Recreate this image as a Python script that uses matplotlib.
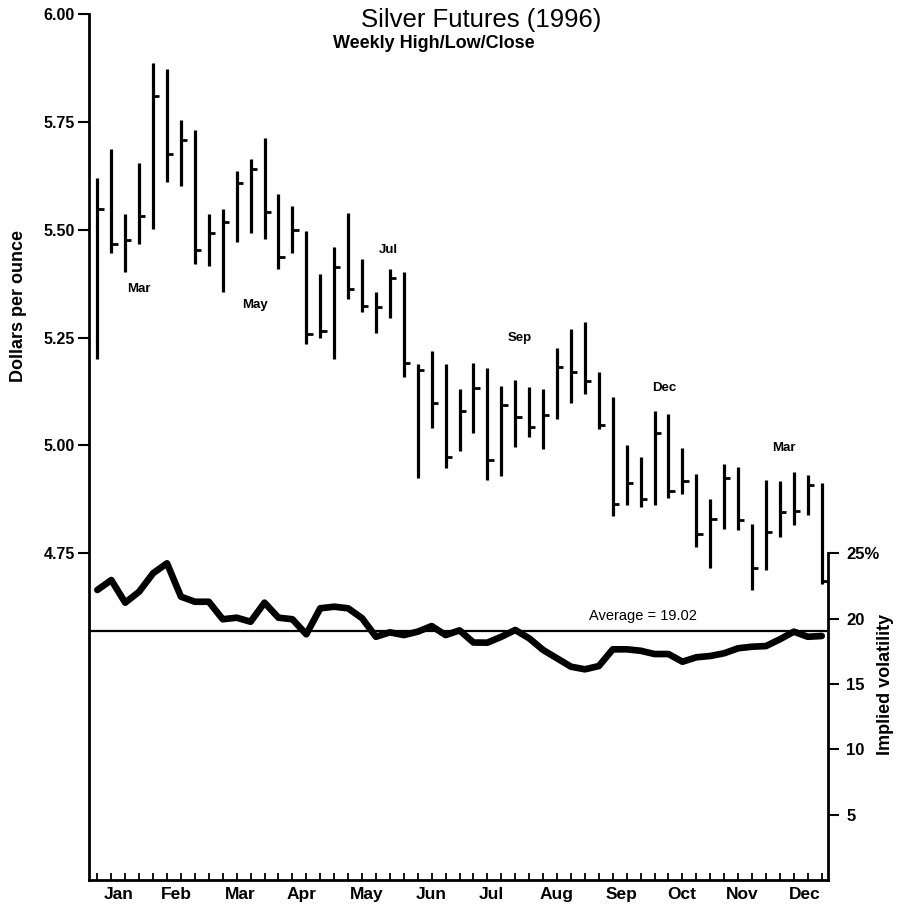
import matplotlib.pyplot as plt
import numpy as np

plt.rcParams['font.family'] = ['Liberation Sans', 'DejaVu Sans']

# weekly high / low / close, dollars per ounce
highs = [5.620, 5.686, 5.536, 5.655, 5.886, 5.872, 5.755, 5.732, 5.536, 5.549,
         5.635, 5.664, 5.713, 5.583, 5.556, 5.497, 5.397, 5.459, 5.538, 5.432,
         5.355, 5.410, 5.402, 5.189, 5.220, 5.188, 5.131, 5.192, 5.180, 5.139,
         5.152, 5.135, 5.131, 5.225, 5.270, 5.286, 5.171, 5.112, 5.000, 4.974,
         5.079, 5.074, 4.994, 4.935, 4.877, 4.958, 4.949, 4.818, 4.921, 4.917,
         4.939, 4.931, 4.914]
lows = [5.200, 5.447, 5.401, 5.466, 5.501, 5.610, 5.601, 5.420, 5.415, 5.355,
        5.472, 5.493, 5.478, 5.410, 5.445, 5.235, 5.249, 5.201, 5.339, 5.309,
        5.260, 5.295, 5.158, 4.924, 5.041, 4.947, 4.988, 5.030, 4.920, 4.930,
        4.997, 5.020, 4.993, 5.061, 5.099, 5.120, 5.039, 4.837, 4.862, 4.858,
        4.862, 4.879, 4.887, 4.764, 4.717, 4.806, 4.804, 4.666, 4.712, 4.787,
        4.816, 4.839, 4.679]
closes = [5.547, 5.468, 5.476, 5.532, 5.811, 5.676, 5.709, 5.453, 5.493, 5.519,
          5.609, 5.641, 5.540, 5.436, 5.499, 5.258, 5.266, 5.413, 5.362, 5.324,
          5.322, 5.388, 5.192, 5.174, 5.099, 4.974, 5.081, 5.133, 4.966, 5.093,
          5.066, 5.044, 5.071, 5.183, 5.170, 5.149, 5.048, 4.865, 4.912, 4.877,
          5.029, 4.894, 4.918, 4.796, 4.830, 4.924, 4.827, 4.716, 4.800, 4.847,
          4.849, 4.908, 4.685]

# implied volatility, percent
vol = [22.19, 22.95, 21.22, 22.06, 23.47, 24.23, 21.68, 21.29, 21.29, 19.95,
       20.07, 19.76, 21.22, 20.07, 19.95, 18.80, 20.79, 20.91, 20.79, 20.03,
       18.61, 18.95, 18.74, 19.00, 19.43, 18.74, 19.10, 18.17, 18.16, 18.61,
       19.13, 18.49, 17.60, 16.96, 16.32, 16.12, 16.37, 17.65, 17.65, 17.54,
       17.29, 17.29, 16.70, 17.04, 17.14, 17.35, 17.73, 17.85, 17.90, 18.42,
       19.00, 18.61, 18.67]
avg_vol = 19.02

month_names = ['Jan', 'Feb', 'Mar', 'Apr', 'May', 'Jun',
               'Jul', 'Aug', 'Sep', 'Oct', 'Nov', 'Dec']
month_pos = [1.56, 5.65, 10.24, 14.69, 19.3, 24.0,
             28.3, 33.0, 37.6, 41.95, 46.3, 50.8]

# contract month labels (name, week, price)
contract_names = ['Mar', 'May', 'Jul', 'Sep', 'Dec', 'Mar']
contract_week = [3.0, 11.3, 20.9, 30.3, 40.7, 49.3]
contract_price = [5.362, 5.326, 5.453, 5.250, 5.133, 4.994]

weeks = np.arange(len(highs))

fig = plt.figure(figsize=(8.98, 9.16), dpi=100)
ax = fig.add_axes([89 / 898, 36 / 916, 739 / 898, 866 / 916])

ax.vlines(weeks, lows, highs, color='black', lw=2.3)
ax.hlines(closes, weeks, weeks + 0.45, color='black', lw=2.0)

for name, w, p in zip(contract_names, contract_week, contract_price):
    ax.text(w, p, name, ha='center', va='center', fontsize=9.5, fontweight='bold')

ax.set_xlim(-0.6, 52.45)
ax.set_ylim(3.993, 6.0)
ax.set_yticks([4.75, 5.00, 5.25, 5.50, 5.75, 6.00])
ax.set_yticklabels(['%.2f' % v for v in [4.75, 5.00, 5.25, 5.50, 5.75, 6.00]],
                   fontweight='bold')
ax.tick_params(axis='y', direction='out', length=8, width=1.5, labelsize=11.5, pad=2)

ax.xaxis.remove_overlapping_locs = False
ax.set_xticks(weeks)
ax.set_xticklabels([])
ax.set_xticks(month_pos, minor=True)
ax.set_xticklabels(month_names, minor=True, fontweight='bold')
ax.tick_params(axis='x', which='major', direction='in', length=5, width=1.3)
ax.tick_params(axis='x', which='minor', length=0, labelsize=12.5, pad=5)

ax.spines['top'].set_visible(False)
ax.spines['right'].set_visible(False)
ax.spines['left'].set_linewidth(2)
ax.spines['bottom'].set_linewidth(2)

ax2 = ax.twinx()
ax2.plot(weeks, vol, color='black', lw=4.8, solid_joinstyle='round', solid_capstyle='round')
ax2.axhline(avg_vol, color='black', lw=1.6)
ax2.text(39.2, 20.2, 'Average = %.2f' % avg_vol, ha='center', va='center', fontsize=10.5)
ax2.set_ylim(0, 66.26)
ax2.set_yticks([5, 10, 15, 20, 25])
ax2.set_yticklabels(['5', '10', '15', '20', '25%'], fontweight='bold')
ax2.tick_params(axis='y', direction='out', length=8, width=1.5, labelsize=12, pad=5)
ax2.spines['right'].set_bounds(0, 25)
ax2.spines['right'].set_linewidth(2)
ax2.spines['top'].set_visible(False)
ax2.spines['left'].set_visible(False)
ax2.spines['bottom'].set_visible(False)

fig.text(481 / 898, 1 - 20 / 916, 'Silver Futures (1996)', ha='center', va='center', fontsize=18.5)
fig.text(333 / 898, 1 - 44 / 916, 'Weekly High/Low/Close', ha='left', va='center',
         fontsize=13, fontweight='bold')
fig.text(18.5 / 898, 1 - 306 / 916, 'Dollars per ounce', rotation=90,
         ha='center', va='center', fontsize=13, fontweight='bold')
fig.text(886 / 898, 1 - 684 / 916, 'Implied volatility', rotation=90,
         ha='center', va='center', fontsize=13, fontweight='bold')

fig.savefig('out.png', dpi=100)
